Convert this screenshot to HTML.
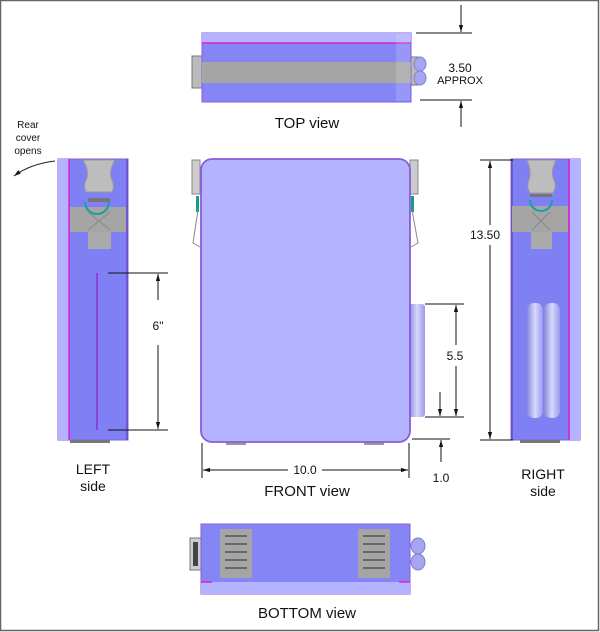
<!DOCTYPE html>
<html><head><meta charset="utf-8"><style>
html,body{margin:0;padding:0;background:#fff}
svg{display:block}
text{font-family:"Liberation Sans",Arial,sans-serif;fill:#111}
</style></head><body>
<svg width="600" height="632" viewBox="0 0 600 632" xmlns="http://www.w3.org/2000/svg">
<defs>
<marker id="a" viewBox="0 0 10 10" refX="10" refY="5" markerWidth="7" markerHeight="7" orient="auto-start-reverse"><path d="M0,2 L10,5 L0,8 z" fill="#111"/></marker>
<linearGradient id="cyl" x1="0" x2="1"><stop offset="0" stop-color="#8888dd"/><stop offset=".5" stop-color="#d8d8ff"/><stop offset="1" stop-color="#9a9ae8"/></linearGradient>
</defs>
<rect x="0.5" y="0.5" width="598" height="630" fill="#fff" stroke="#666" stroke-width="1.5"/>

<!-- TOP view -->
<rect x="192" y="56" width="10" height="32" fill="#bbb" stroke="#777"/>
<rect x="410" y="57" width="8" height="28" fill="#bbb" stroke="#777"/>
<ellipse cx="420" cy="64" rx="6" ry="7" fill="#a6a6f0" stroke="#8080cc"/>
<ellipse cx="420" cy="78" rx="6" ry="7" fill="#a6a6f0" stroke="#8080cc"/>
<rect x="202" y="33" width="209" height="69" fill="#8585f5" stroke="#8a5cd6"/>
<rect x="202" y="33" width="209" height="10" fill="#b3b3ff"/>
<line x1="202" y1="43" x2="411" y2="43" stroke="#e020d0" stroke-width="1.5"/>
<rect x="202" y="62" width="209" height="21" fill="#a5a5a5"/>
<rect x="396" y="34" width="14" height="67" fill="#fff" opacity=".15"/>
<line x1="416" y1="33" x2="472" y2="33" stroke="#111"/>
<line x1="420" y1="100" x2="472" y2="100" stroke="#111"/>
<line x1="461" y1="5" x2="461" y2="32" stroke="#111" marker-end="url(#a)"/>
<line x1="461" y1="127" x2="461" y2="101" stroke="#111" marker-end="url(#a)"/>
<text x="460" y="72" font-size="12" text-anchor="middle">3.50</text>
<text x="460" y="84" font-size="11" text-anchor="middle">APPROX</text>
<text x="307" y="128" font-size="15" text-anchor="middle">TOP view</text>

<!-- Rear cover -->
<text x="28" y="128" font-size="10" text-anchor="middle">Rear</text>
<text x="28" y="141" font-size="10" text-anchor="middle">cover</text>
<text x="28" y="154" font-size="10" text-anchor="middle">opens</text>
<path d="M55,161 Q30,164 14,176" fill="none" stroke="#222" marker-end="url(#a)"/>

<!-- LEFT side -->
<rect x="58" y="159" width="70" height="281" fill="#8080f5" stroke="#8a5cd6"/>
<rect x="58" y="159" width="11" height="281" fill="#b3b3ff"/>
<line x1="69" y1="159" x2="69" y2="440" stroke="#e020d0" stroke-width="1.5"/>
<line x1="127" y1="159" x2="127" y2="440" stroke="#6a4cc6" stroke-width="1.5"/>
<rect x="70" y="207" width="56" height="25" fill="#a5a5a5"/>
<path d="M83,160 H115 Q108,172 112,180 Q115,186 112,192 H86 Q83,186 86,180 Q90,172 83,160 z" fill="#bdbdbd" stroke="#999"/>
<rect x="88" y="198" width="22" height="4" fill="#777"/>
<path d="M85,202 A12,12 0 0 0 109,202" fill="none" stroke="#16a0a0" stroke-width="2"/>
<path d="M88,212 L110,230 M110,212 L88,230" stroke="#888" fill="none"/>
<rect x="88" y="232" width="23" height="17" fill="#aaa"/>
<line x1="97" y1="273" x2="97" y2="430" stroke="#8a30d0" stroke-width="1.5"/>
<g fill="#777"><rect x="70" y="440" width="40" height="3"/></g>
<line x1="108" y1="273" x2="168" y2="273" stroke="#111"/>
<line x1="108" y1="430" x2="168" y2="430" stroke="#111"/>
<line x1="158" y1="300" x2="158" y2="274" stroke="#111" marker-end="url(#a)"/>
<line x1="158" y1="345" x2="158" y2="429" stroke="#111" marker-end="url(#a)"/>
<text x="158" y="330" font-size="12" text-anchor="middle" fill="#111">6"</text>
<text x="93" y="474" font-size="14" text-anchor="middle">LEFT</text>
<text x="93" y="491" font-size="14" text-anchor="middle">side</text>

<!-- FRONT view -->
<rect x="192" y="160" width="8" height="34" fill="#ccc" stroke="#888"/>
<rect x="410" y="160" width="8" height="34" fill="#ccc" stroke="#888"/>
<rect x="196" y="196" width="3" height="16" fill="#1a9a8a"/>
<rect x="411" y="196" width="3" height="16" fill="#1a9a8a"/>
<path d="M198,210 L193,243 L200,247" fill="none" stroke="#888"/>
<path d="M412,210 L418,243 L411,247" fill="none" stroke="#888"/>
<rect x="409" y="304" width="16" height="113" rx="3" fill="url(#cyl)"/>
<rect x="226" y="442" width="20" height="3" fill="#999"/>
<rect x="364" y="442" width="20" height="3" fill="#999"/>
<rect x="201" y="159" width="209" height="283" rx="11" fill="#b3b3ff" stroke="#8a5cd6" stroke-width="1.8"/>
<line x1="425" y1="304" x2="464" y2="304" stroke="#111"/>
<line x1="425" y1="417" x2="464" y2="417" stroke="#111"/>
<line x1="456" y1="345" x2="456" y2="305" stroke="#111" marker-end="url(#a)"/>
<line x1="456" y1="366" x2="456" y2="416" stroke="#111" marker-end="url(#a)"/>
<text x="455" y="360" font-size="12" text-anchor="middle">5.5</text>
<line x1="440" y1="392" x2="440" y2="416" stroke="#111" marker-end="url(#a)"/>
<line x1="202" y1="443" x2="202" y2="478" stroke="#111"/>
<line x1="409" y1="443" x2="409" y2="478" stroke="#111"/>
<line x1="288" y1="470" x2="203" y2="470" stroke="#111" marker-end="url(#a)"/>
<line x1="322" y1="470" x2="408" y2="470" stroke="#111" marker-end="url(#a)"/>
<text x="305" y="474" font-size="12" text-anchor="middle">10.0</text>
<line x1="412" y1="439" x2="450" y2="439" stroke="#111"/>
<line x1="441" y1="462" x2="441" y2="440" stroke="#111" marker-end="url(#a)"/>
<text x="441" y="482" font-size="12" text-anchor="middle">1.0</text>
<text x="307" y="496" font-size="15" text-anchor="middle">FRONT view</text>

<!-- RIGHT side -->
<rect x="511" y="159" width="69" height="281" fill="#8080f5" stroke="#8a5cd6"/>
<rect x="570" y="159" width="10" height="281" fill="#b3b3ff"/>
<line x1="569" y1="159" x2="569" y2="440" stroke="#e020d0" stroke-width="1.5"/>
<line x1="512" y1="159" x2="512" y2="440" stroke="#6a4cc6" stroke-width="1.5"/>
<rect x="512" y="206" width="56" height="26" fill="#a5a5a5"/>
<path d="M527,160 H556 Q550,172 554,180 Q557,186 553,193 H530 Q526,186 529,180 Q532,172 527,160 z" fill="#bdbdbd" stroke="#999"/>
<rect x="530" y="194" width="22" height="3" fill="#777"/>
<path d="M530,200 A11,11 0 0 0 552,200" fill="none" stroke="#16a0a0" stroke-width="2"/>
<path d="M532,212 L550,230 M550,212 L532,230" stroke="#888" fill="none"/>
<rect x="531" y="232" width="21" height="17" fill="#aaa"/>
<rect x="527" y="303" width="16" height="115" rx="7" fill="url(#cyl)"/>
<rect x="544" y="303" width="16" height="115" rx="7" fill="url(#cyl)"/>
<rect x="520" y="440" width="40" height="3" fill="#777"/>
<line x1="480" y1="160" x2="513" y2="160" stroke="#111"/>
<line x1="480" y1="440" x2="513" y2="440" stroke="#111"/>
<line x1="490" y1="225" x2="490" y2="161" stroke="#111" marker-end="url(#a)"/>
<line x1="490" y1="245" x2="490" y2="439" stroke="#111" marker-end="url(#a)"/>
<text x="485" y="239" font-size="12" text-anchor="middle">13.50</text>
<text x="543" y="479" font-size="14" text-anchor="middle">RIGHT</text>
<text x="543" y="496" font-size="14" text-anchor="middle">side</text>

<!-- BOTTOM view -->
<rect x="190" y="538" width="12" height="32" fill="#ccc" stroke="#777"/>
<rect x="193" y="542" width="5" height="24" fill="#444"/>
<ellipse cx="418" cy="546" rx="7" ry="8" fill="#a6a6f0" stroke="#8080cc"/>
<ellipse cx="418" cy="562" rx="7" ry="8" fill="#a6a6f0" stroke="#8080cc"/>
<rect x="201" y="524" width="209" height="70" fill="#8585f5" stroke="#8a5cd6"/>
<rect x="201" y="582" width="209" height="12" fill="#b3b3ff"/>
<line x1="201" y1="582" x2="212" y2="582" stroke="#e020d0" stroke-width="1.5"/>
<line x1="399" y1="582" x2="410" y2="582" stroke="#e020d0" stroke-width="1.5"/>
<rect x="220" y="529" width="32" height="49" fill="#a5a5a5"/>
<rect x="358" y="529" width="32" height="49" fill="#a5a5a5"/>
<g stroke="#555" stroke-width="1.5">
<line x1="225" y1="536" x2="247" y2="536"/><line x1="225" y1="544" x2="247" y2="544"/><line x1="225" y1="552" x2="247" y2="552"/><line x1="225" y1="560" x2="247" y2="560"/><line x1="225" y1="568" x2="247" y2="568"/>
<line x1="363" y1="536" x2="385" y2="536"/><line x1="363" y1="544" x2="385" y2="544"/><line x1="363" y1="552" x2="385" y2="552"/><line x1="363" y1="560" x2="385" y2="560"/><line x1="363" y1="568" x2="385" y2="568"/>
</g>
<text x="307" y="618" font-size="15" text-anchor="middle">BOTTOM view</text>
</svg>
</body></html>
